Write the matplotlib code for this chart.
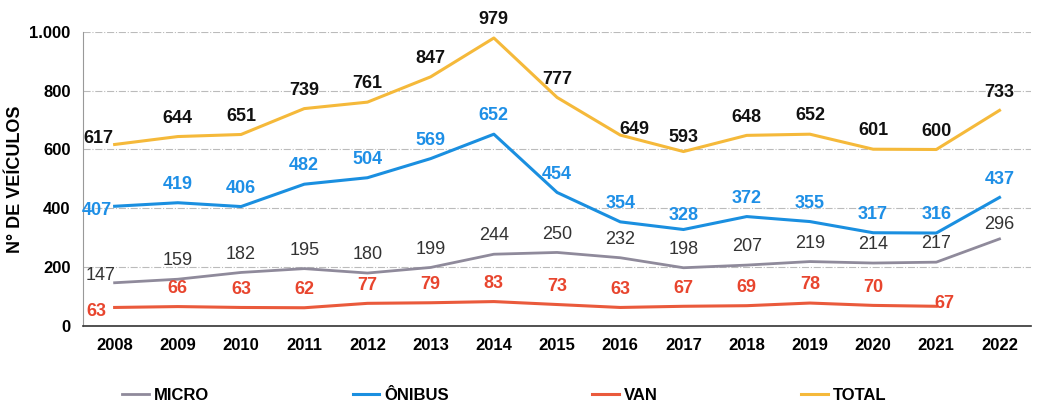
import numpy as np
import matplotlib
matplotlib.use('Agg')
import matplotlib.pyplot as plt
from matplotlib.ticker import FuncFormatter

anos = [2008, 2009, 2010, 2011, 2012, 2013, 2014, 2015, 2016, 2017, 2018, 2019, 2020, 2021, 2022]
micro = [147, 159, 182, 195, 180, 199, 244, 250, 232, 198, 207, 219, 214, 217, 296]
onibus = [407, 419, 406, 482, 504, 569, 652, 454, 354, 328, 372, 355, 317, 316, 437]
van = [63, 66, 63, 62, 77, 79, 83, 73, 63, 67, 69, 78, 70, 67]
total = [617, 644, 651, 739, 761, 847, 979, 777, 649, 593, 648, 652, 601, 600, 733]

plt.rcParams['font.family'] = ['Liberation Sans', 'DejaVu Sans']

fig = plt.figure(figsize=(10.43, 4.08), dpi=100)
ax = fig.add_axes([0.0796, 0.201, 0.909, 0.721])

x = np.arange(len(anos))
ax.plot(x, micro, color='#8f8a9b', lw=2, label='MICRO')
ax.plot(x, onibus, color='#1a8fe0', lw=2.2, label='ÔNIBUS')
ax.plot(x[:len(van)], van, color='#ea5a3c', lw=2.2, label='VAN')
ax.plot(x, total, color='#f5b93a', lw=2.2, label='TOTAL')

def rotular(vals, cor, peso, desloc=None):
    desloc = desloc or {}
    for i, v in enumerate(vals):
        dx, dy = desloc.get(i, (0, 7))
        ax.annotate(str(v), (x[i], v), xytext=(dx, dy), textcoords='offset points',
                    ha='center', va='bottom', color=cor, fontsize=13, fontweight=peso)

rotular(total, '#111111', 'bold', {0: (-12, -2), 8: (10, -2), 9: (0, 4)})
rotular(onibus, '#1e8fe6', 'bold', {0: (-13, -9), 9: (0, 4)})
rotular(micro, '#333333', 'normal', {0: (-10, -1), 14: (0, 4)})
rotular(van, '#e8452e', 'bold', {0: (-13, -9), 13: (6, -4)})

ax.set_xlim(-0.5, len(anos) - 0.5)
ax.set_ylim(0, 1000)
ax.set_yticks(range(0, 1001, 200))
ax.yaxis.set_major_formatter(FuncFormatter(lambda v, p: f'{int(v):,}'.replace(',', '.')))
ax.set_xticks(x)
ax.set_xticklabels([str(a) for a in anos])
for t in ax.get_xticklabels() + ax.get_yticklabels():
    t.set_fontweight('bold')
    t.set_fontsize(12)
ax.tick_params(length=0, pad=9)
ax.grid(axis='y', color='#bbbbbb', linestyle='-.', lw=0.8)
ax.set_axisbelow(True)
for s in ['top', 'right']:
    ax.spines[s].set_visible(False)
ax.spines['left'].set_color('#999999')
ax.spines['bottom'].set_color('#333333')
ax.spines['bottom'].set_linewidth(1.2)
ax.set_ylabel('N° DE VEÍCULOS', fontsize=13, fontweight='bold', labelpad=4)

fig.legend(loc='center left', bbox_to_anchor=(0.103, 0.03), ncol=4, frameon=False,
           handlelength=1.6, handletextpad=0.3, columnspacing=8.6,
           prop={'family': ['Liberation Sans Narrow', 'Liberation Sans'], 'weight': 'bold', 'size': 12})

fig.savefig('out.png', dpi=100)
